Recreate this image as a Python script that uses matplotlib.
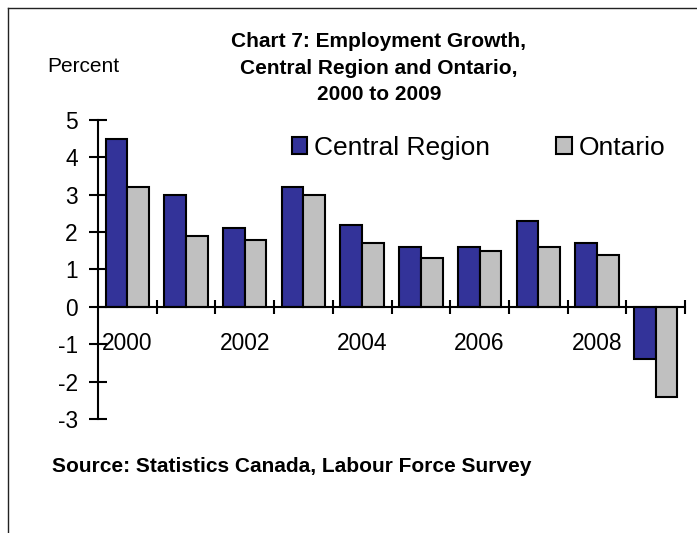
import matplotlib
matplotlib.use("Agg")
import matplotlib.pyplot as plt
import numpy as np
from matplotlib.lines import Line2D

plt.rcParams['font.family'] = ['Liberation Sans', 'DejaVu Sans']
plt.rcParams['axes.unicode_minus'] = False

years = ['2000', '2001', '2002', '2003', '2004', '2005', '2006', '2007', '2008', '2009']
central = [4.5, 3.0, 2.1, 3.2, 2.2, 1.6, 1.6, 2.3, 1.7, -1.4]
ontario = [3.2, 1.9, 1.8, 3.0, 1.7, 1.3, 1.5, 1.6, 1.4, -2.4]
shown_labels = ['2000', '', '2002', '', '2004', '', '2006', '', '2008', '']

fig = plt.figure(figsize=(6.97, 5.33), dpi=100)
ax = fig.add_axes([98 / 697, 1 - 419 / 533, 587 / 697, 299 / 533])

x = np.arange(len(years)) + 0.5
w = 0.37
ax.bar(x - w / 2, central, w, color='#333399', edgecolor='black', linewidth=1.5,
       label='Central Region', zorder=3)
ax.bar(x + w / 2, ontario, w, color='#C0C0C0', edgecolor='black', linewidth=1.5,
       label='Ontario', zorder=3)

ax.set_xlim(0, len(years))
ax.set_ylim(-3, 5)
ax.spines['top'].set_visible(False)
ax.spines['right'].set_visible(False)
ax.spines['bottom'].set_position(('data', 0))
ax.spines['left'].set_position(('data', 0))
for s in ['bottom', 'left']:
    ax.spines[s].set_linewidth(1.5)
    ax.spines[s].set_zorder(4)

ax.set_yticks(range(-3, 6))
ax.tick_params(axis='y', direction='inout', length=13, width=1.5, pad=8, labelsize=16.4)

# category boundary ticks (no labels) + centred year labels
ax.set_xticks(np.arange(1, len(years) + 1))
ax.set_xticklabels([])
ax.tick_params(axis='x', which='major', direction='inout', length=10, width=1.5)
ax.set_xticks(x, minor=True)
ax.set_xticklabels(shown_labels, minor=True)
ax.tick_params(axis='x', which='minor', length=0, pad=18, labelsize=16.4)

ax.legend(loc='center left', bbox_to_anchor=(292 / 697, 1 - 148 / 533),
          bbox_transform=fig.transFigure, ncol=2, frameon=False, fontsize=19,
          handlelength=0.58, handleheight=0.58, handletextpad=0.27,
          columnspacing=2.5, borderpad=0, borderaxespad=0)

fig.text(379 / 697, 1 - 68 / 533,
         'Chart 7: Employment Growth,\nCentral Region and Ontario,\n2000 to 2009',
         ha='center', va='center', fontsize=15, fontweight='bold', linespacing=1.5)
fig.text(47 / 697, 1 - 67 / 533, 'Percent', ha='left', va='center', fontsize=15)
fig.text(52 / 697, 1 - 467 / 533, 'Source: Statistics Canada, Labour Force Survey',
         ha='left', va='center', fontsize=15, fontweight='bold')

# chart area border (cropped at right and bottom)
fig.add_artist(Line2D([8 / 697, 1], [1 - 8 / 533, 1 - 8 / 533], color='#222222', linewidth=1))
fig.add_artist(Line2D([8 / 697, 8 / 697], [1 - 8 / 533, 0], color='#222222', linewidth=1))

fig.savefig('out.png', dpi=100)
